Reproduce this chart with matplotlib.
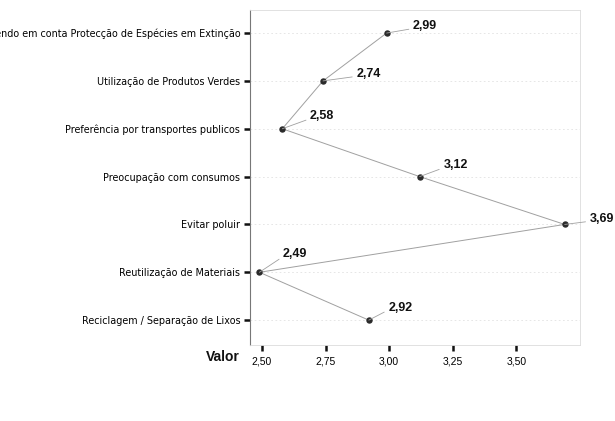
import matplotlib
matplotlib.use("Agg")
import matplotlib.pyplot as plt
from matplotlib import font_manager

plt.rcParams["font.family"] = ["Liberation Sans", "DejaVu Sans"]

names = sorted({f.name for f in font_manager.fontManager.ttflist})
narrow = "Liberation Sans Narrow" if "Liberation Sans Narrow" in names else "DejaVu Sans"

categories = [
    "Tendo em conta Protecção de Espécies em Extinção",
    "Utilização de Produtos Verdes",
    "Preferência por transportes publicos",
    "Preocupação com consumos",
    "Evitar poluir",
    "Reutilização de Materiais",
    "Reciclagem / Separação de Lixos",
]
values = [2.99, 2.74, 2.58, 3.12, 3.69, 2.49, 2.92]
x_ticks = [2.50, 2.75, 3.00, 3.25, 3.50]

# label offsets in points (dx, dy)
label_offsets = [(19, 5), (24, 5), (20, 9), (17, 8), (18, 4), (17, 13), (14, 9)]

fig = plt.figure(figsize=(6.15, 4.21), dpi=100, facecolor="white")
ax = fig.add_axes([0.4065, 0.1805, 0.5365, 0.7955])

ypos = list(range(len(categories)))
ax.plot(values, ypos, color="#a0a0a0", linewidth=0.7, zorder=2)
ax.plot(values, ypos, linestyle="none", marker="o", markersize=3.6,
        color="#2a2a2a", zorder=3)

for v, y, (dx, dy) in zip(values, ypos, label_offsets):
    ax.annotate(f"{v:.2f}".replace(".", ","), xy=(v, y), xytext=(dx, dy),
                textcoords="offset points", ha="left", va="center",
                fontsize=9, fontweight="bold", color="#111111",
                arrowprops=dict(arrowstyle="-", color="#a0a0a0", lw=0.6,
                                shrinkA=1, shrinkB=0, relpos=(0, 0.3)),
                annotation_clip=False, zorder=4)

for y in ypos:
    ax.axhline(y, color="#e2e2e2", linewidth=0.6, linestyle=(0, (2, 3)), zorder=1)

ax.set_xlim(2.453, 3.75)
ax.set_ylim(len(categories) - 0.48, -0.48)
ax.set_yticks(ypos)
ax.set_yticklabels(categories, fontsize=6.9, family=[narrow, "DejaVu Sans"])
ax.set_xticks(x_ticks)
ax.set_xticklabels([f"{t:.2f}".replace(".", ",") for t in x_ticks], fontsize=7.5)
ax.tick_params(axis="y", length=4, width=1.8, pad=3, color="#111111")
ax.tick_params(axis="x", length=4, width=1.8, pad=4, color="#111111")

ax.spines["left"].set_color("#777777")
ax.spines["left"].set_linewidth(0.8)
for side in ["top", "right", "bottom"]:
    ax.spines[side].set_color("#dcdcdc")
    ax.spines[side].set_linewidth(0.6)

fig.text(0.39, 0.152, "Valor", ha="right", va="center",
         fontsize=10, fontweight="bold", color="#111111")

fig.savefig("out.png", dpi=100)
